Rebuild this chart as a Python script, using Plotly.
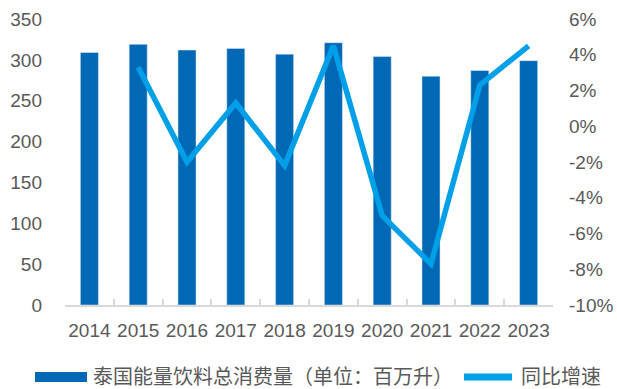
import plotly.graph_objects as go

years = ['2014', '2015', '2016', '2017', '2018', '2019', '2020', '2021', '2022', '2023']
consumption = [309, 319, 312, 314, 307, 321, 304, 280, 287, 299]
growth = [None, 3.3, -2.0, 1.3, -2.2, 4.5, -5.0, -7.7, 2.3, 4.5]

# right axis ticks (hyphen minus as in the original)
pct_ticks = [-10, -8, -6, -4, -2, 0, 2, 4, 6]
pct_labels = ['-10%', '-8%', '-6%', '-4%', '-2%', '0%', '2%', '4%', '6%']

bar_name = '泰国能量饮料总消费量（单位：百万升）'
line_name = '同比增速'

BAR_COLOR = '#0068b5'
LINE_COLOR = '#00a0e9'
TEXT_COLOR = '#595959'
AXIS_COLOR = '#d9d9d9'

fig = go.Figure()

fig.add_trace(go.Bar(x=years, y=consumption, name=bar_name, marker_color=BAR_COLOR,
                     showlegend=False))
fig.add_trace(go.Scatter(x=years, y=growth, name=line_name, yaxis='y2', mode='lines',
                         line=dict(color=LINE_COLOR, width=5.5), showlegend=False))

# plot area is 65..553 px wide, 19..305 px tall
W, L = 488, 65
H, B = 286, 305


def px(x):
    return (x - L) / W


def py(y):
    return (B - y) / H


# hand-made legend so the symbols are wide like the original
fig.add_shape(type='rect', xref='paper', yref='paper', x0=px(35), x1=px(87),
              y0=py(382), y1=py(372), fillcolor=BAR_COLOR, line_width=0)
fig.add_shape(type='line', xref='paper', yref='paper', x0=px(464), x1=px(512),
              y0=py(377), y1=py(377), line=dict(color=LINE_COLOR, width=7))
fig.add_annotation(x=px(91), y=py(375.5), xref='paper', yref='paper', text=bar_name,
                   showarrow=False, xanchor='left', yanchor='middle',
                   font=dict(family='Noto Sans CJK SC', size=20, color=TEXT_COLOR))
fig.add_annotation(x=px(519), y=py(375.5), xref='paper', yref='paper', text=line_name,
                   showarrow=False, xanchor='left', yanchor='middle',
                   font=dict(family='Noto Sans CJK SC', size=20, color=TEXT_COLOR))

fig.update_layout(
    width=617, height=389,
    margin=dict(l=65, r=64, t=19, b=84),
    plot_bgcolor='white', paper_bgcolor='white',
    font=dict(family='Liberation Sans, Arial', size=19, color=TEXT_COLOR),
    bargap=0.63,
    xaxis=dict(type='category', showline=True, linecolor=AXIS_COLOR, linewidth=2,
               ticks='inside', tickson='boundaries', ticklen=6, tickcolor=AXIS_COLOR,
               tickwidth=1.5, showgrid=False, ticklabelstandoff=7, tickangle=0,
               automargin=False),
    yaxis=dict(range=[0, 350], dtick=50, showgrid=False, zeroline=False,
               showline=False, ticklabelstandoff=22, automargin=False),
    yaxis2=dict(range=[-10, 6], tickvals=pct_ticks, ticktext=pct_labels, overlaying='y',
                side='right', showgrid=False, zeroline=False, showline=False,
                ticklabelstandoff=15, automargin=False),
)

# drop the page's default body margin so the chart fills the window
fig.write_html("out.html", config={'displayModeBar': False},
               post_script="document.body.style.margin='0';")
